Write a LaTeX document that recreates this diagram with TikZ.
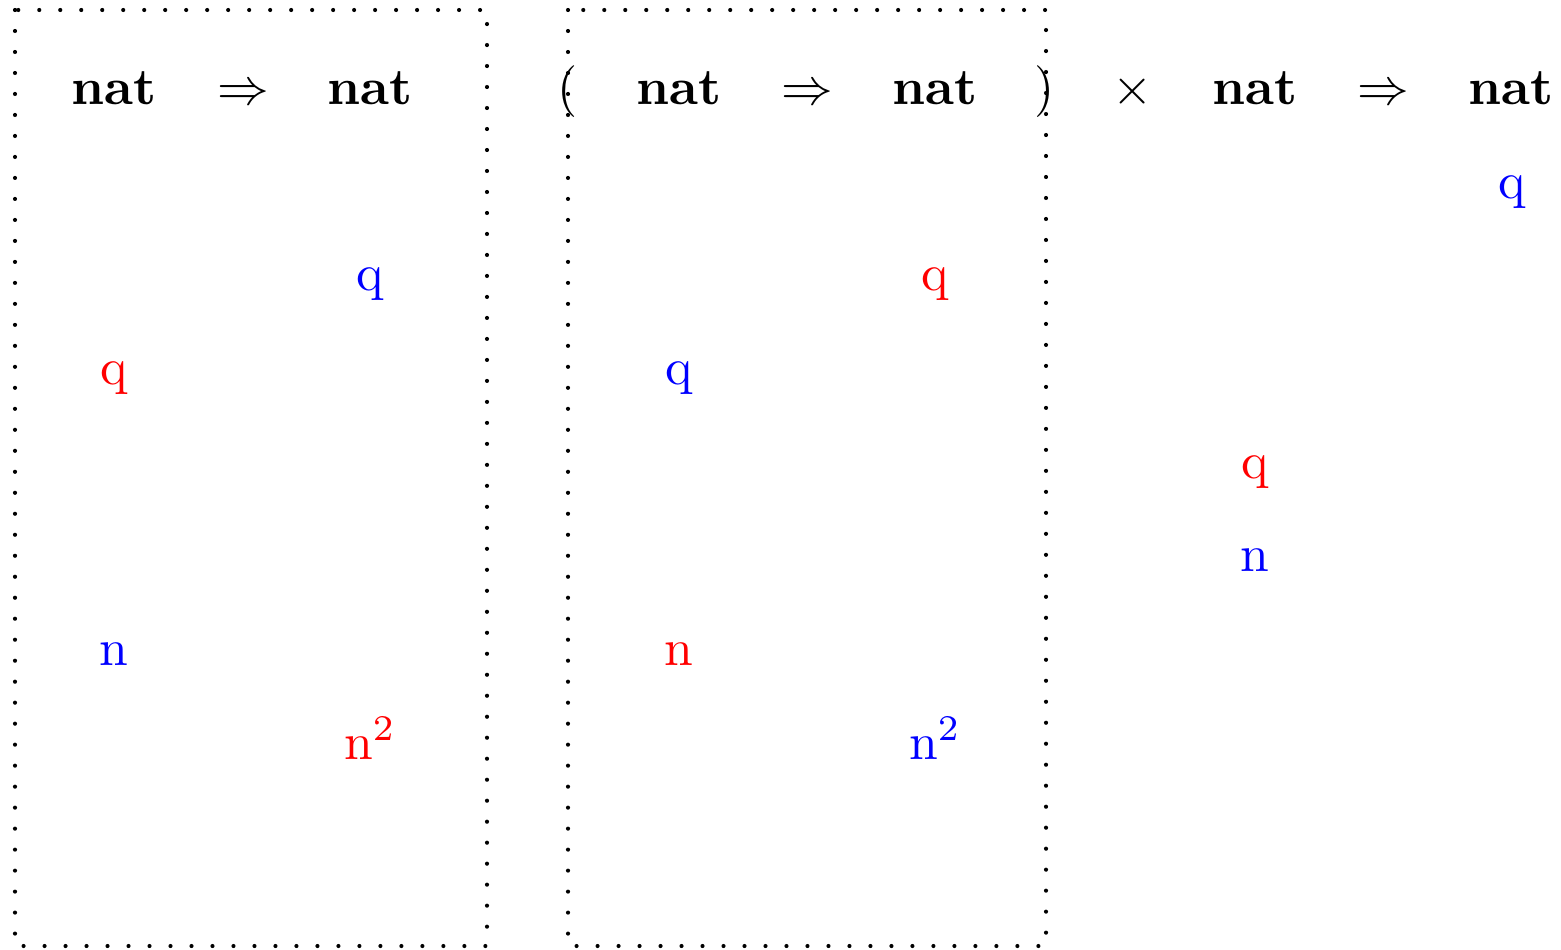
\documentclass[tikz,border=0pt]{standalone}
\usepackage{amsmath}
\tikzset{
  typ/.style={anchor=base,font=\bfseries},
  sym/.style={anchor=base},
  omove/.style={anchor=base,text=blue},
  pmove/.style={anchor=base,text=red},
  arena/.style={line width=0.8pt,line cap=round,dash pattern=on 0pt off 4.06pt}
}

\begin{document}
\begin{tikzpicture}[x=0.19342pt,y=-0.19342pt]
  \useasboundingbox (0,0) rectangle (1561,949);

  % Dotted boxes round the two arenas
  \draw[arena] (15,10) rectangle (487,946);
  \draw[arena] (568,10) rectangle (1046,946);

  % Type line
  \node[typ] (nat1) at (114,104) {nat};
  \node[sym] (to1) at (243,104) {$\Rightarrow$};
  \node[typ] (nat2) at (370,104) {nat};
  \node[sym] (lpar) at (568,104) {$($};
  \node[typ] (nat3) at (679,104) {nat};
  \node[sym] (to2) at (807,104) {$\Rightarrow$};
  \node[typ] (nat4) at (935,104) {nat};
  \node[sym] (rpar) at (1045,104) {$)$};
  \node[sym] (prod) at (1133,104) {$\times$};
  \node[typ] (nat5) at (1255,104) {nat};
  \node[sym] (to3) at (1383,104) {$\Rightarrow$};
  \node[typ] (nat6) at (1511,104) {nat};

  % Moves of the first arena
  \node[omove] (q1) at (370,290) {$\mathrm{q}$};
  \node[pmove] (q2) at (114,384) {$\mathrm{q}$};
  \node[omove] (n1) at (114,665) {$\mathrm{n}$};
  \node[pmove] (n2) at (370,759) {$\mathrm{n}^2$};

  % Moves of the second arena
  \node[pmove] (q3) at (935,290) {$\mathrm{q}$};
  \node[omove] (q4) at (679,384) {$\mathrm{q}$};
  \node[pmove] (n3) at (679,665) {$\mathrm{n}$};
  \node[omove] (n4) at (935,759) {$\mathrm{n}^2$};

  % Moves of the whole type
  \node[omove] (q5) at (1512,198) {$\mathrm{q}$};
  \node[pmove] (q6) at (1255,478) {$\mathrm{q}$};
  \node[omove] (n5) at (1255,571) {$\mathrm{n}$};
\end{tikzpicture}
\end{document}
